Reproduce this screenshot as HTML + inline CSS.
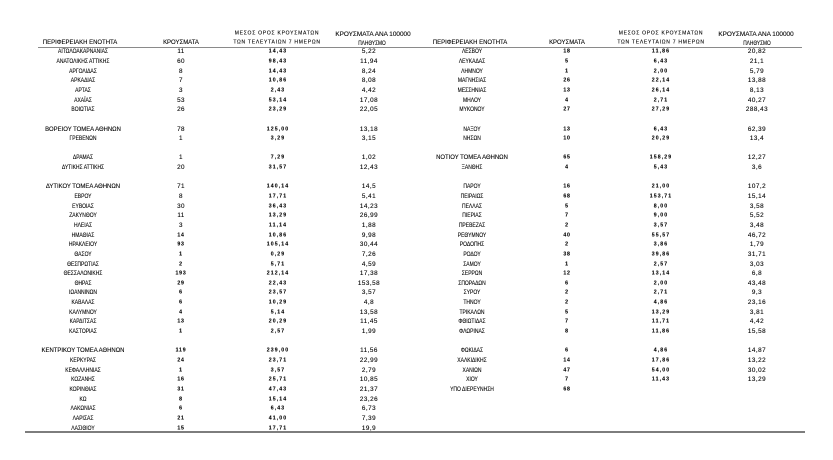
<!DOCTYPE html>
<html>
<head>
<meta charset="utf-8">
<style>
html,body{margin:0;padding:0;background:#fff}
body{width:833px;height:460px;overflow:hidden;position:relative;font-family:"Liberation Sans","DejaVu Sans",sans-serif;color:#000;-webkit-text-stroke:.12px #111}
.L,.R{position:absolute;left:0;top:0;width:833px;height:460px}
.r{position:absolute;left:0;height:0;width:833px}
.r span,.h span{position:absolute;top:0;white-space:nowrap;line-height:1}
.n{font-size:6.4px;transform:translate(-50%,-50%) scaleX(.78)}
.t{font-size:6.4px;transform:translate(-50%,-50%) scaleX(.93)}
.k{font-size:6.3px;letter-spacing:.4px;transform:translate(-50%,-50%)}
.kb{font-size:5.2px;font-weight:bold;letter-spacing:.8px;transform:translate(-50%,-50%)}
.m{font-size:5.2px;font-weight:bold;letter-spacing:1.1px;transform:translate(-50%,-50%)}
.p{font-size:6.3px;letter-spacing:.5px;transform:translate(-50%,-50%)}
.L .n,.L .t{left:83px}.L .k,.L .kb{left:181px}.L .m{left:278px}.L .p{left:369px}
.R .n,.R .t{left:472px}.R .k,.R .kb{left:567px}.R .m{left:661px}.R .p{left:757px}
.h{position:absolute;left:0;top:0;width:833px;height:0}
.h1{font-size:6.3px;transform:translate(-50%,-50%) scaleX(.95)}
.h2{font-size:5px;letter-spacing:.75px;transform:translate(-50%,-50%)}
.h3{font-size:6.4px;transform:translate(-50%,-50%)}
.h4{font-size:6.3px;transform:translate(-50%,-50%) scaleX(.76)}
.line{position:absolute;background:#8a8a8a}
</style>
</head>
<body>

<div class="h">
  <span class="h1" style="left:80px;top:42.7px">ΠΕΡΙΦΕΡΕΙΑΚΗ ΕΝΟΤΗΤΑ</span>
  <span class="h1" style="left:181px;top:43px">ΚΡΟΥΣΜΑΤΑ</span>
  <span class="h2" style="left:277px;top:34px">ΜΕΣΟΣ ΟΡΟΣ ΚΡΟΥΣΜΑΤΩΝ</span>
  <span class="h2" style="left:277px;top:43.3px">ΤΩΝ ΤΕΛΕΥΤΑΙΩΝ 7 ΗΜΕΡΩΝ</span>
  <span class="h3" style="left:373px;top:35px">ΚΡΟΥΣΜΑΤΑ ΑΝΑ 100000</span>
  <span class="h4" style="left:372px;top:44.3px">ΠΛΗΘΥΣΜΟ</span>

  <span class="h1" style="left:470px;top:42.7px">ΠΕΡΙΦΕΡΕΙΑΚΗ ΕΝΟΤΗΤΑ</span>
  <span class="h1" style="left:566.5px;top:43px">ΚΡΟΥΣΜΑΤΑ</span>
  <span class="h2" style="left:661px;top:34px">ΜΕΣΟΣ ΟΡΟΣ ΚΡΟΥΣΜΑΤΩΝ</span>
  <span class="h2" style="left:661px;top:43.3px">ΤΩΝ ΤΕΛΕΥΤΑΙΩΝ 7 ΗΜΕΡΩΝ</span>
  <span class="h3" style="left:756px;top:35px">ΚΡΟΥΣΜΑΤΑ ΑΝΑ 100000</span>
  <span class="h4" style="left:756.5px;top:44.3px">ΠΛΗΘΥΣΜΟ</span>
</div>

<div class="line" style="left:38px;top:46.5px;width:764px;height:1.3px"></div>
<div class="line" style="left:25px;top:430.5px;width:780px;height:2px;background:#7d7d7d"></div>

<div class="L">
<div class="r" style="top:52.3px"><span class="n">ΑΙΤΩΛΟΑΚΑΡΝΑΝΙΑΣ</span><span class="k">11</span><span class="m">14,43</span><span class="p">5,22</span></div>
<div class="r" style="top:61.9px"><span class="n">ΑΝΑΤΟΛΙΚΗΣ ΑΤΤΙΚΗΣ</span><span class="k">60</span><span class="m">98,43</span><span class="p">11,94</span></div>
<div class="r" style="top:71.6px"><span class="n">ΑΡΓΟΛΙΔΑΣ</span><span class="k">8</span><span class="m">14,43</span><span class="p">8,24</span></div>
<div class="r" style="top:81.2px"><span class="n">ΑΡΚΑΔΙΑΣ</span><span class="k">7</span><span class="m">10,86</span><span class="p">8,08</span></div>
<div class="r" style="top:90.9px"><span class="n">ΑΡΤΑΣ</span><span class="k">3</span><span class="m">2,43</span><span class="p">4,42</span></div>
<div class="r" style="top:100.5px"><span class="n">ΑΧΑΪΑΣ</span><span class="k">53</span><span class="m">53,14</span><span class="p">17,08</span></div>
<div class="r" style="top:110.2px"><span class="n">ΒΟΙΩΤΙΑΣ</span><span class="k">26</span><span class="m">23,29</span><span class="p">22,05</span></div>
<div class="r" style="top:129.5px"><span class="t">ΒΟΡΕΙΟΥ ΤΟΜΕΑ ΑΘΗΝΩΝ</span><span class="k">78</span><span class="m">125,00</span><span class="p">13,18</span></div>
<div class="r" style="top:139.1px"><span class="n">ΓΡΕΒΕΝΩΝ</span><span class="k">1</span><span class="m">3,29</span><span class="p">3,15</span></div>
<div class="r" style="top:158.4px"><span class="n">ΔΡΑΜΑΣ</span><span class="k">1</span><span class="m">7,29</span><span class="p">1,02</span></div>
<div class="r" style="top:168.0px"><span class="n">ΔΥΤΙΚΗΣ ΑΤΤΙΚΗΣ</span><span class="k">20</span><span class="m">31,57</span><span class="p">12,43</span></div>
<div class="r" style="top:187.3px"><span class="t">ΔΥΤΙΚΟΥ ΤΟΜΕΑ ΑΘΗΝΩΝ</span><span class="k">71</span><span class="m">140,14</span><span class="p">14,5</span></div>
<div class="r" style="top:197.0px"><span class="n">ΕΒΡΟΥ</span><span class="k">8</span><span class="m">17,71</span><span class="p">5,41</span></div>
<div class="r" style="top:206.6px"><span class="n">ΕΥΒΟΙΑΣ</span><span class="k">30</span><span class="m">36,43</span><span class="p">14,23</span></div>
<div class="r" style="top:216.3px"><span class="n">ΖΑΚΥΝΘΟΥ</span><span class="k">11</span><span class="m">13,29</span><span class="p">26,99</span></div>
<div class="r" style="top:225.9px"><span class="n">ΗΛΕΙΑΣ</span><span class="k">3</span><span class="m">11,14</span><span class="p">1,88</span></div>
<div class="r" style="top:235.6px"><span class="n">ΗΜΑΘΙΑΣ</span><span class="kb">14</span><span class="m">10,86</span><span class="p">9,98</span></div>
<div class="r" style="top:245.2px"><span class="n">ΗΡΑΚΛΕΙΟΥ</span><span class="kb">93</span><span class="m">105,14</span><span class="p">30,44</span></div>
<div class="r" style="top:254.8px"><span class="n">ΘΑΣΟΥ</span><span class="kb">1</span><span class="m">0,29</span><span class="p">7,26</span></div>
<div class="r" style="top:264.5px"><span class="n">ΘΕΣΠΡΩΤΙΑΣ</span><span class="kb">2</span><span class="m">5,71</span><span class="p">4,59</span></div>
<div class="r" style="top:274.1px"><span class="n">ΘΕΣΣΑΛΟΝΙΚΗΣ</span><span class="kb">193</span><span class="m">212,14</span><span class="p">17,38</span></div>
<div class="r" style="top:283.8px"><span class="n">ΘΗΡΑΣ</span><span class="kb">29</span><span class="m">22,43</span><span class="p">153,58</span></div>
<div class="r" style="top:293.4px"><span class="n">ΙΩΑΝΝΙΝΩΝ</span><span class="kb">6</span><span class="m">23,57</span><span class="p">3,57</span></div>
<div class="r" style="top:303.1px"><span class="n">ΚΑΒΑΛΑΣ</span><span class="kb">6</span><span class="m">10,29</span><span class="p">4,8</span></div>
<div class="r" style="top:312.7px"><span class="n">ΚΑΛΥΜΝΟΥ</span><span class="kb">4</span><span class="m">5,14</span><span class="p">13,58</span></div>
<div class="r" style="top:322.4px"><span class="n">ΚΑΡΔΙΤΣΑΣ</span><span class="kb">13</span><span class="m">20,29</span><span class="p">11,45</span></div>
<div class="r" style="top:332.0px"><span class="n">ΚΑΣΤΟΡΙΑΣ</span><span class="kb">1</span><span class="m">2,57</span><span class="p">1,99</span></div>
<div class="r" style="top:351.3px"><span class="t">ΚΕΝΤΡΙΚΟΥ ΤΟΜΕΑ ΑΘΗΝΩΝ</span><span class="kb">119</span><span class="m">239,00</span><span class="p">11,56</span></div>
<div class="r" style="top:360.9px"><span class="n">ΚΕΡΚΥΡΑΣ</span><span class="kb">24</span><span class="m">23,71</span><span class="p">22,99</span></div>
<div class="r" style="top:370.6px"><span class="n">ΚΕΦΑΛΛΗΝΙΑΣ</span><span class="kb">1</span><span class="m">3,57</span><span class="p">2,79</span></div>
<div class="r" style="top:380.2px"><span class="n">ΚΟΖΑΝΗΣ</span><span class="kb">16</span><span class="m">25,71</span><span class="p">10,85</span></div>
<div class="r" style="top:389.9px"><span class="n">ΚΟΡΙΝΘΙΑΣ</span><span class="kb">31</span><span class="m">47,43</span><span class="p">21,37</span></div>
<div class="r" style="top:399.5px"><span class="n">ΚΩ</span><span class="kb">8</span><span class="m">15,14</span><span class="p">23,26</span></div>
<div class="r" style="top:409.2px"><span class="n">ΛΑΚΩΝΙΑΣ</span><span class="kb">6</span><span class="m">6,43</span><span class="p">6,73</span></div>
<div class="r" style="top:418.8px"><span class="n">ΛΑΡΙΣΑΣ</span><span class="kb">21</span><span class="m">41,00</span><span class="p">7,39</span></div>
<div class="r" style="top:428.5px"><span class="n">ΛΑΣΙΘΙΟΥ</span><span class="kb">15</span><span class="m">17,71</span><span class="p">19,9</span></div>
</div>

<div class="R">
<div class="r" style="top:52.3px"><span class="n">ΛΕΣΒΟΥ</span><span class="kb">18</span><span class="m">11,86</span><span class="p">20,82</span></div>
<div class="r" style="top:61.9px"><span class="n">ΛΕΥΚΑΔΑΣ</span><span class="kb">5</span><span class="m">6,43</span><span class="p">21,1</span></div>
<div class="r" style="top:71.6px"><span class="n">ΛΗΜΝΟΥ</span><span class="kb">1</span><span class="m">2,00</span><span class="p">5,79</span></div>
<div class="r" style="top:81.2px"><span class="n">ΜΑΓΝΗΣΙΑΣ</span><span class="kb">26</span><span class="m">22,14</span><span class="p">13,88</span></div>
<div class="r" style="top:90.9px"><span class="n">ΜΕΣΣΗΝΙΑΣ</span><span class="kb">13</span><span class="m">26,14</span><span class="p">8,13</span></div>
<div class="r" style="top:100.5px"><span class="n">ΜΗΛΟΥ</span><span class="kb">4</span><span class="m">2,71</span><span class="p">40,27</span></div>
<div class="r" style="top:110.2px"><span class="n">ΜΥΚΟΝΟΥ</span><span class="kb">27</span><span class="m">27,29</span><span class="p">288,43</span></div>
<div class="r" style="top:129.5px"><span class="n">ΝΑΞΟΥ</span><span class="kb">13</span><span class="m">6,43</span><span class="p">62,39</span></div>
<div class="r" style="top:139.1px"><span class="n">ΝΗΣΩΝ</span><span class="kb">10</span><span class="m">20,29</span><span class="p">13,4</span></div>
<div class="r" style="top:158.4px"><span class="t">ΝΟΤΙΟΥ ΤΟΜΕΑ ΑΘΗΝΩΝ</span><span class="kb">65</span><span class="m">158,29</span><span class="p">12,27</span></div>
<div class="r" style="top:168.0px"><span class="n">ΞΑΝΘΗΣ</span><span class="kb">4</span><span class="m">5,43</span><span class="p">3,6</span></div>
<div class="r" style="top:187.3px"><span class="n">ΠΑΡΟΥ</span><span class="kb">16</span><span class="m">21,00</span><span class="p">107,2</span></div>
<div class="r" style="top:197.0px"><span class="n">ΠΕΙΡΑΙΩΣ</span><span class="kb">68</span><span class="m">153,71</span><span class="p">15,14</span></div>
<div class="r" style="top:206.6px"><span class="n">ΠΕΛΛΑΣ</span><span class="kb">5</span><span class="m">8,00</span><span class="p">3,58</span></div>
<div class="r" style="top:216.3px"><span class="n">ΠΙΕΡΙΑΣ</span><span class="kb">7</span><span class="m">9,00</span><span class="p">5,52</span></div>
<div class="r" style="top:225.9px"><span class="n">ΠΡΕΒΕΖΑΣ</span><span class="kb">2</span><span class="m">3,57</span><span class="p">3,48</span></div>
<div class="r" style="top:235.6px"><span class="n">ΡΕΘΥΜΝΟΥ</span><span class="kb">40</span><span class="m">55,57</span><span class="p">46,72</span></div>
<div class="r" style="top:245.2px"><span class="n">ΡΟΔΟΠΗΣ</span><span class="kb">2</span><span class="m">3,86</span><span class="p">1,79</span></div>
<div class="r" style="top:254.8px"><span class="n">ΡΟΔΟΥ</span><span class="kb">38</span><span class="m">39,86</span><span class="p">31,71</span></div>
<div class="r" style="top:264.5px"><span class="n">ΣΑΜΟΥ</span><span class="kb">1</span><span class="m">2,57</span><span class="p">3,03</span></div>
<div class="r" style="top:274.1px"><span class="n">ΣΕΡΡΩΝ</span><span class="kb">12</span><span class="m">13,14</span><span class="p">6,8</span></div>
<div class="r" style="top:283.8px"><span class="n">ΣΠΟΡΑΔΩΝ</span><span class="kb">6</span><span class="m">2,00</span><span class="p">43,48</span></div>
<div class="r" style="top:293.4px"><span class="n">ΣΥΡΟΥ</span><span class="kb">2</span><span class="m">2,71</span><span class="p">9,3</span></div>
<div class="r" style="top:303.1px"><span class="n">ΤΗΝΟΥ</span><span class="kb">2</span><span class="m">4,86</span><span class="p">23,16</span></div>
<div class="r" style="top:312.7px"><span class="n">ΤΡΙΚΑΛΩΝ</span><span class="kb">5</span><span class="m">13,29</span><span class="p">3,81</span></div>
<div class="r" style="top:322.4px"><span class="n">ΦΘΙΩΤΙΔΑΣ</span><span class="kb">7</span><span class="m">11,71</span><span class="p">4,42</span></div>
<div class="r" style="top:332.0px"><span class="n">ΦΛΩΡΙΝΑΣ</span><span class="kb">8</span><span class="m">11,86</span><span class="p">15,58</span></div>
<div class="r" style="top:351.3px"><span class="n">ΦΩΚΙΔΑΣ</span><span class="kb">6</span><span class="m">4,86</span><span class="p">14,87</span></div>
<div class="r" style="top:360.9px"><span class="n">ΧΑΛΚΙΔΙΚΗΣ</span><span class="kb">14</span><span class="m">17,86</span><span class="p">13,22</span></div>
<div class="r" style="top:370.6px"><span class="n">ΧΑΝΙΩΝ</span><span class="kb">47</span><span class="m">54,00</span><span class="p">30,02</span></div>
<div class="r" style="top:380.2px"><span class="n">ΧΙΟΥ</span><span class="kb">7</span><span class="m">11,43</span><span class="p">13,29</span></div>
<div class="r" style="top:389.9px"><span class="n">ΥΠΟ ΔΙΕΡΕΥΝΗΣΗ</span><span class="kb">68</span></div>
</div>

</body>
</html>
